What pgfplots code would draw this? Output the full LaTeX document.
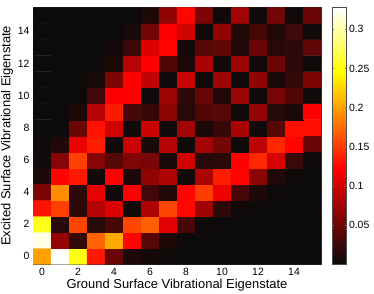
\documentclass[border=0pt]{standalone}
\usepackage{pgfplots}
\pgfplotsset{compat=1.18}
\usepackage{fontspec}
\setmainfont{Liberation Sans}
\begin{document}
\begin{tikzpicture}
\begin{axis}[
  at={(33bp,29.7bp)}, anchor=south west,
  scale only axis, width=288bp, height=257bp,
  xmin=-0.5, xmax=15.5, ymin=-0.5, ymax=15.5,
  xtick={0,2,...,14}, ytick={0,2,...,14},
  tick align=inside, major tick length=3bp,
  /pgf/number format/assume math mode=true,
  tick label style={font=\fontsize{10.5}{12}\selectfont},
  label style={font=\fontsize{13}{15}\selectfont},
  xlabel style={yshift=3bp},
  ylabel style={yshift=-2bp},
  axis line style={draw=black!80, line width=0.5pt},
  xlabel={Ground Surface Vibrational Eigenstate},
  ylabel={Excited Surface Vibrational Eigenstate},
  colormap={mlhot}{rgb255(0cm)=(10,10,10) rgb255(3cm)=(255,0,0) rgb255(6cm)=(255,255,0) rgb255(8cm)=(255,255,255)},
  point meta min=0, point meta max=0.328,
  colorbar,
  colorbar style={
    at={(1.0382,1)}, anchor=north west, width=14.5bp,
    ytick={0.05,0.1,0.15,0.2,0.25,0.3},
    yticklabels={0.05,0.1,0.15,0.2,0.25,0.3},
    yticklabel style={font=\fontsize{10.5}{12}\selectfont, xshift=-1bp},
    ytick pos=both, yticklabel pos=right, ytick align=inside,
    major tick length=2bp,
    axis line style={draw=black!70},
  },
]
\addplot[matrix plot*, mesh/cols=16, point meta=explicit]
table[row sep=\\, meta=c]{
x y c\\
0 0 0.200\\ 1 0 0.328\\ 2 0 0.252\\ 3 0 0.135\\ 4 0 0.048\\ 5 0 0.010\\ 6 0 0.005\\ 7 0 0.003\\ 8 0 0.001\\ 9 0 0.001\\ 10 0 0.001\\ 11 0 0.001\\ 12 0 0.001\\ 13 0 0.001\\ 14 0 0.001\\ 15 0 0.001\\
0 1 0.320\\ 1 1 0.070\\ 2 1 0.020\\ 3 1 0.171\\ 4 1 0.205\\ 5 1 0.125\\ 6 1 0.039\\ 7 1 0.010\\ 8 1 0.001\\ 9 1 0.001\\ 10 1 0.001\\ 11 1 0.001\\ 12 1 0.001\\ 13 1 0.001\\ 14 1 0.001\\ 15 1 0.001\\
0 2 0.255\\ 1 2 0.015\\ 2 2 0.157\\ 3 2 0.015\\ 4 2 0.031\\ 5 2 0.157\\ 6 2 0.169\\ 7 2 0.108\\ 8 2 0.031\\ 9 2 0.002\\ 10 2 0.001\\ 11 2 0.001\\ 12 2 0.001\\ 13 2 0.001\\ 14 2 0.001\\ 15 2 0.001\\
0 3 0.132\\ 1 3 0.154\\ 2 3 0.018\\ 3 3 0.085\\ 4 3 0.106\\ 5 3 0.003\\ 6 3 0.082\\ 7 3 0.157\\ 8 3 0.126\\ 9 3 0.075\\ 10 3 0.018\\ 11 3 0.002\\ 12 3 0.001\\ 13 3 0.001\\ 14 3 0.001\\ 15 3 0.001\\
0 4 0.058\\ 1 4 0.190\\ 2 4 0.018\\ 3 4 0.111\\ 4 4 0.003\\ 5 4 0.123\\ 6 4 0.027\\ 7 4 0.012\\ 8 4 0.125\\ 9 4 0.152\\ 10 4 0.115\\ 11 4 0.030\\ 12 4 0.010\\ 13 4 0.002\\ 14 4 0.001\\ 15 4 0.001\\
0 5 0.010\\ 1 5 0.125\\ 2 5 0.135\\ 3 5 0.003\\ 4 5 0.123\\ 5 5 0.010\\ 6 5 0.068\\ 7 5 0.082\\ 8 5 0.003\\ 9 5 0.080\\ 10 5 0.137\\ 11 5 0.125\\ 12 5 0.065\\ 13 5 0.012\\ 14 5 0.002\\ 15 5 0.001\\
0 6 0.003\\ 1 6 0.063\\ 2 6 0.154\\ 3 6 0.063\\ 4 6 0.039\\ 5 6 0.060\\ 6 6 0.055\\ 7 6 0.008\\ 8 6 0.100\\ 9 6 0.015\\ 10 6 0.015\\ 11 6 0.124\\ 12 6 0.142\\ 13 6 0.103\\ 14 6 0.024\\ 15 6 0.002\\
0 7 0.002\\ 1 7 0.012\\ 2 7 0.113\\ 3 7 0.137\\ 4 7 0.003\\ 5 7 0.097\\ 6 7 0.008\\ 7 7 0.087\\ 8 7 0.003\\ 9 7 0.077\\ 10 7 0.053\\ 11 7 0.003\\ 12 7 0.090\\ 13 7 0.142\\ 14 7 0.125\\ 15 7 0.048\\
0 8 0.001\\ 1 8 0.001\\ 2 8 0.048\\ 3 8 0.132\\ 4 8 0.100\\ 5 8 0.003\\ 6 8 0.097\\ 7 8 0.003\\ 8 8 0.077\\ 9 8 0.010\\ 10 8 0.022\\ 11 8 0.080\\ 12 8 0.003\\ 13 8 0.039\\ 14 8 0.130\\ 15 8 0.130\\
0 9 0.001\\ 1 9 0.001\\ 2 9 0.010\\ 3 9 0.085\\ 4 9 0.135\\ 5 9 0.030\\ 6 9 0.022\\ 7 9 0.065\\ 8 9 0.015\\ 9 9 0.036\\ 10 9 0.039\\ 11 9 0.003\\ 12 9 0.070\\ 13 9 0.015\\ 14 9 0.008\\ 15 9 0.123\\
0 10 0.001\\ 1 10 0.001\\ 2 10 0.001\\ 3 10 0.027\\ 4 10 0.123\\ 5 10 0.123\\ 6 10 0.003\\ 7 10 0.075\\ 8 10 0.018\\ 9 10 0.046\\ 10 10 0.012\\ 11 10 0.072\\ 12 10 0.003\\ 13 10 0.055\\ 14 10 0.036\\ 15 10 0.003\\
0 11 0.001\\ 1 11 0.001\\ 2 11 0.001\\ 3 11 0.008\\ 4 11 0.058\\ 5 11 0.123\\ 6 11 0.092\\ 7 11 0.003\\ 8 11 0.097\\ 9 11 0.003\\ 10 11 0.072\\ 11 11 0.003\\ 12 11 0.068\\ 13 11 0.008\\ 14 11 0.020\\ 15 11 0.058\\
0 12 0.001\\ 1 12 0.001\\ 2 12 0.001\\ 3 12 0.001\\ 4 12 0.010\\ 5 12 0.087\\ 6 12 0.122\\ 7 12 0.036\\ 8 12 0.010\\ 9 12 0.080\\ 10 12 0.003\\ 11 12 0.072\\ 12 12 0.003\\ 13 12 0.048\\ 14 12 0.018\\ 15 12 0.003\\
0 13 0.001\\ 1 13 0.001\\ 2 13 0.001\\ 3 13 0.001\\ 4 13 0.005\\ 5 13 0.025\\ 6 13 0.106\\ 7 13 0.125\\ 8 13 0.005\\ 9 13 0.039\\ 10 13 0.043\\ 11 13 0.012\\ 12 13 0.048\\ 13 13 0.015\\ 14 13 0.018\\ 15 13 0.043\\
0 14 0.001\\ 1 14 0.001\\ 2 14 0.001\\ 3 14 0.001\\ 4 14 0.001\\ 5 14 0.008\\ 6 14 0.053\\ 7 14 0.123\\ 8 14 0.100\\ 9 14 0.003\\ 10 14 0.068\\ 11 14 0.012\\ 12 14 0.031\\ 13 14 0.012\\ 14 14 0.027\\ 15 14 0.003\\
0 15 0.001\\ 1 15 0.001\\ 2 15 0.001\\ 3 15 0.001\\ 4 15 0.001\\ 5 15 0.001\\ 6 15 0.010\\ 7 15 0.068\\ 8 15 0.126\\ 9 15 0.058\\ 10 15 0.003\\ 11 15 0.077\\ 12 15 0.003\\ 13 15 0.053\\ 14 15 0.003\\ 15 15 0.048\\
};
\end{axis}
\pgfresetboundingbox
\path[use as bounding box] (0,0) rectangle (374bp,294bp);
\end{tikzpicture}
\end{document}
